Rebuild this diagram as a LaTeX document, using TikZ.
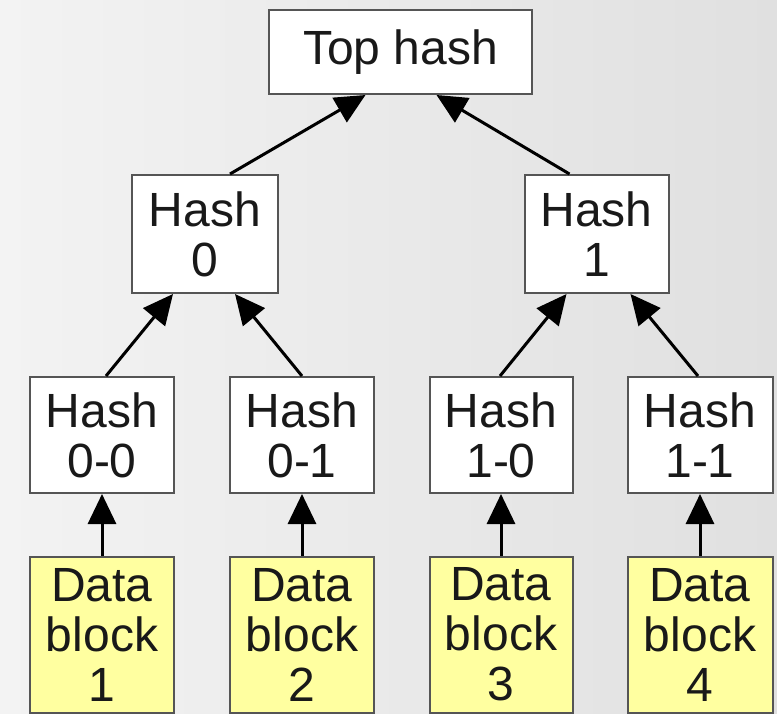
\documentclass[tikz,border=0pt]{standalone}
\usepackage{fontspec}
\setmainfont{Liberation Sans}
\usetikzlibrary{arrows.meta}
\definecolor{bgl}{HTML}{F3F3F3}
\definecolor{bgr}{HTML}{E0E0E0}
\definecolor{boxline}{HTML}{555555}
\definecolor{datafill}{HTML}{FFFFA0}
\tikzset{
  hbox/.style={draw=boxline, line width=2pt, fill=white, inner sep=0pt, align=center,
    font=\fontsize{48}{50}\selectfont, text=black!90},
  dbox/.style={hbox, fill=datafill},
  arr/.style={line width=3pt, -{Triangle[length=30pt,width=28pt]}}
}
\begin{document}
\begin{tikzpicture}[x=1pt,y=-1pt]
\useasboundingbox (0,0) rectangle (777,714);
\shade[left color=bgl, right color=bgr] (0,0) rectangle (777,714);
% top
\node[hbox, minimum width=263pt, minimum height=84pt] (top) at (400.5,52) {Top hash};
% level 1
\node[hbox, minimum width=146pt, minimum height=118pt] (h0) at (205,234) {Hash\\0};
\node[hbox, minimum width=144pt, minimum height=118pt] (h1) at (596.5,234) {Hash\\1};
% level 2
\node[hbox, minimum width=144pt, minimum height=116pt] (h00) at (102,435) {Hash\\0-0};
\node[hbox, minimum width=144pt, minimum height=116pt] (h01) at (302,435) {Hash\\0-1};
\node[hbox, minimum width=143pt, minimum height=116pt] (h10) at (501,435) {Hash\\1-0};
\node[hbox, minimum width=145pt, minimum height=116pt] (h11) at (700,435) {Hash\\1-1};
% data
\node[dbox, minimum width=144pt, minimum height=156pt] (d1) at (102,634.5) {Data\\block\\1};
\node[dbox, minimum width=144pt, minimum height=156pt] (d2) at (302,634.5) {Data\\block\\2};
\node[dbox, minimum width=143pt, minimum height=156pt] (d3) at (501,634.5) {Data\\block\\3};
\node[dbox, minimum width=145pt, minimum height=156pt] (d4) at (700,634.5) {Data\\block\\4};
% arrows
\draw[arr] ([xshift=25pt]h0.north) -- ([xshift=-35pt]top.south);
\draw[arr] ([xshift=-27pt]h1.north) -- ([xshift=36pt]top.south);
\draw[arr] ([xshift=4pt]h00.north) -- ([xshift=-32pt]h0.south);
\draw[arr] (h01.north) -- ([xshift=30pt]h0.south);
\draw[arr] ([xshift=-1pt]h10.north) -- ([xshift=-30pt]h1.south);
\draw[arr] ([xshift=-2pt]h11.north) -- ([xshift=34pt]h1.south);
\draw[arr] (d1.north) -- (h00.south);
\draw[arr] (d2.north) -- (h01.south);
\draw[arr] (d3.north) -- (h10.south);
\draw[arr] (d4.north) -- (h11.south);
\end{tikzpicture}
\end{document}
